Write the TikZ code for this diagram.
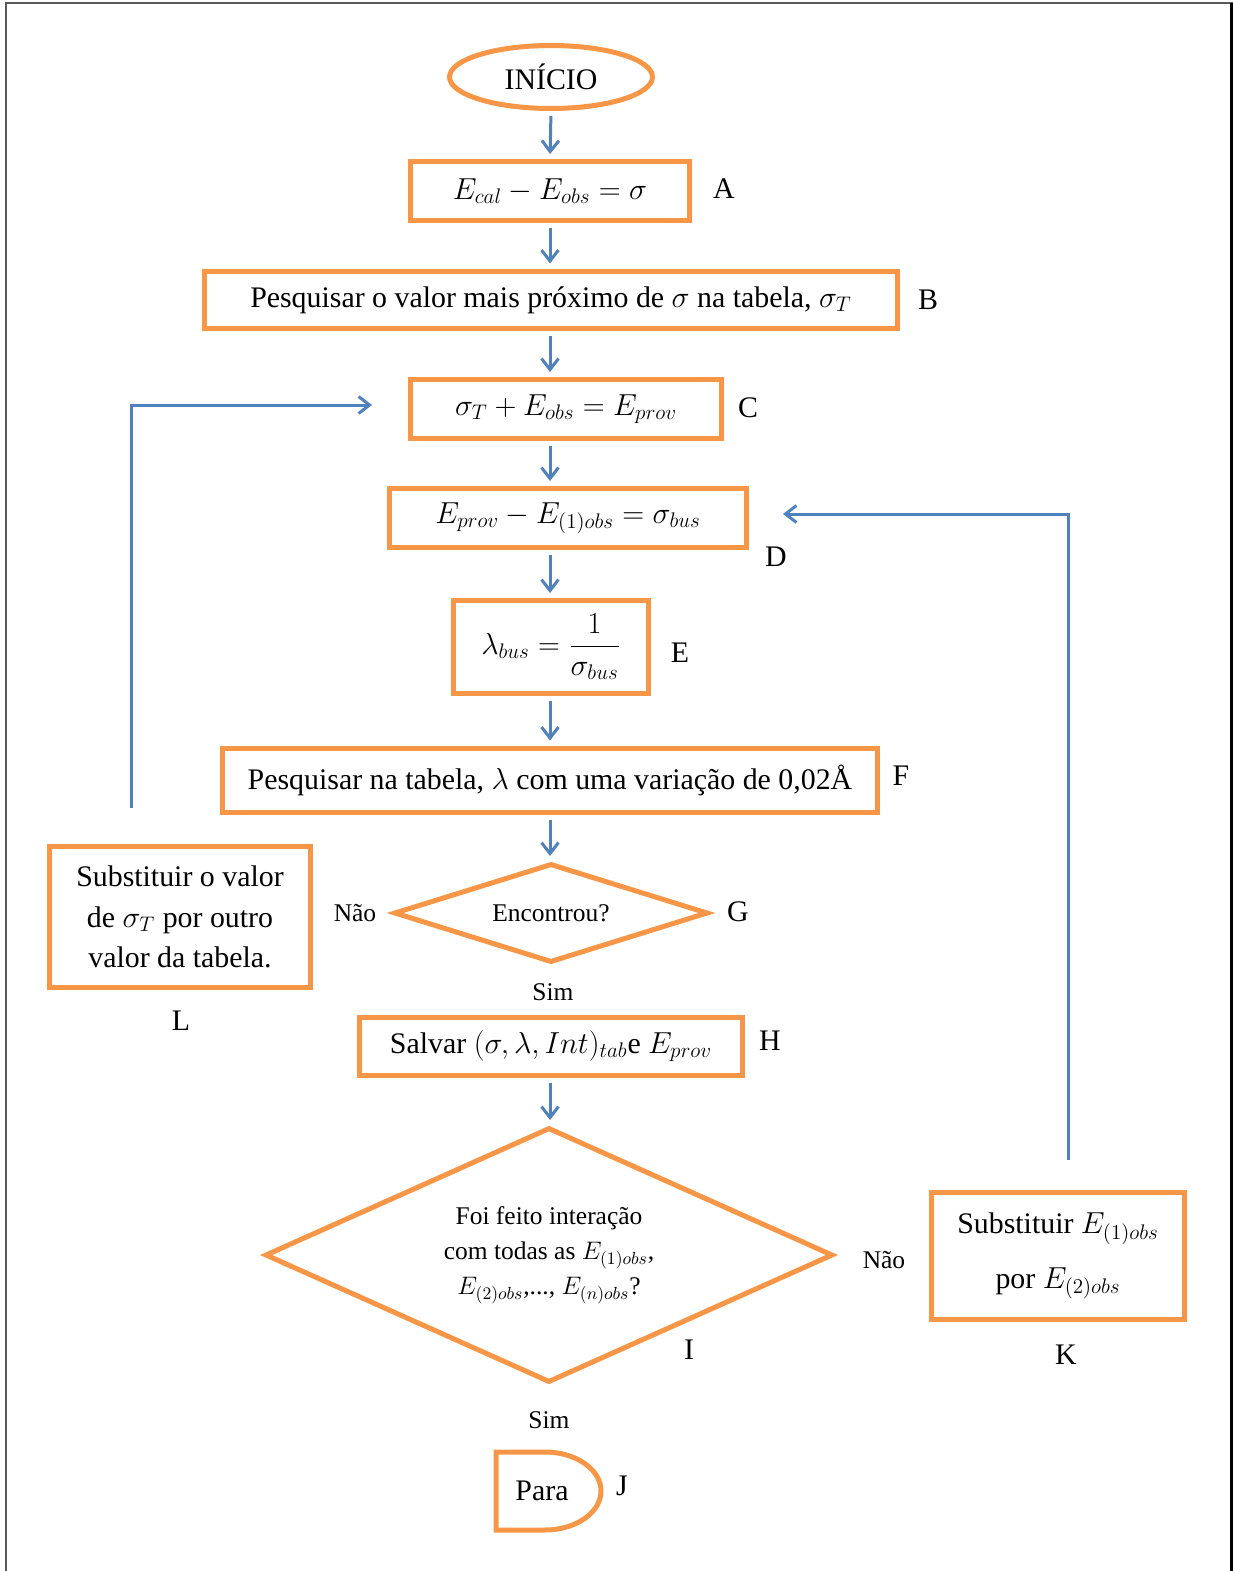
\documentclass[tikz,border=0pt]{standalone}
\usepackage{amsmath}
\usepackage{fontspec}
\setmainfont{Liberation Serif}
\usetikzlibrary{shapes.geometric,arrows.meta}
\definecolor{boxorange}{RGB}{247,150,70}
\definecolor{flowblue}{RGB}{79,129,189}

\begin{document}
\begin{tikzpicture}[x=0.02cm,y=-0.02cm,
	box/.style={shape=rectangle,draw=boxorange,line width=0.1cm,inner sep=0pt,align=center,font=\fontsize{17}{23}\selectfont},
	ques/.style={shape=diamond,draw=boxorange,line width=0.1cm,inner sep=0pt,align=center,font=\fontsize{14.5}{20}\selectfont},
	tag/.style={font=\fontsize{17}{20}\selectfont},
	note/.style={font=\fontsize{14.5}{17}\selectfont},
	flow/.style={draw=flowblue,line width=0.06cm,-{Straight Barb[length=0.22cm,width=0.34cm]}},
	link/.style={flow,shorten <=0.1cm,shorten >=0.1cm}]
	\useasboundingbox (0,0) rectangle (1233,1571);
	\draw[gray!70!black,line width=0.05cm] (6,1571) -- (6,3) -- (1233,3);
	\draw[black,line width=0.05cm] (1231.5,3) -- (1231.5,1571);

	\node[shape=ellipse,draw=boxorange,line width=0.1cm,inner sep=0pt,minimum width=4.06cm,minimum height=1.26cm,font=\fontsize{17}{20}\selectfont] (ini) at (551, 77) {INÍCIO};
	\node[box,minimum width=5.58cm,minimum height=1.18cm] (a) at (550, 191) {$E_{cal}-E_{obs}=\sigma$};
	\node[box,minimum width=13.86cm,minimum height=1.16cm] (b) at (551, 300) {Pesquisar o valor mais próximo de $\sigma$ na tabela, $\sigma_T$};
	\node[box,minimum width=6.22cm,minimum height=1.18cm] (c) at (566, 409) {$\sigma_T+E_{obs}=E_{prov}$};
	\node[box,minimum width=7.16cm,minimum height=1.18cm] (d) at (568, 518) {$E_{prov}-E_{(1)obs}=\sigma_{bus}$};
	\node[box,minimum width=3.92cm,minimum height=1.86cm] (e) at (551, 647) {$\lambda_{bus}=\dfrac{1}{\sigma_{bus}}$};
	\node[box,minimum width=13.12cm,minimum height=1.28cm] (f) at (550, 780) {Pesquisar na tabela, $\lambda$ com uma variação de 0,02Å};
	\node[ques,aspect=3,minimum width=6.28cm,minimum height=1.98cm] (g) at (551, 913) {Encontrou?};
	\node[box,minimum width=7.68cm,minimum height=1.16cm] (h) at (551, 1046) {Salvar $(\sigma,\lambda,Int)_{tab}$e $E_{prov}$};
	\node[ques,aspect=2.2,minimum width=11.36cm,minimum height=5.1cm] (i) at (549, 1255) {Foi feito interação\\com todas as $E_{(1)obs}$,\\$E_{(2)obs}$,..., $E_{(n)obs}$?};
	\node[font=\fontsize{17}{20}\selectfont] (j) at (542, 1491) {Para};
	\node[box,minimum width=5.06cm,minimum height=2.54cm,font=\fontsize{17}{31}\selectfont] (k) at (1058, 1256) {Substituir $E_{(1)obs}$\\por $E_{(2)obs}$};
	\node[box,minimum width=5.24cm,minimum height=2.84cm] (l) at (180, 917) {Substituir o valor\\de $\sigma_T$ por outro\\valor da tabela.};

	\draw[draw=boxorange,line width=0.1cm] (496, 1452) -- (545, 1452) arc[start angle=90,end angle=-90,x radius=1.12cm,y radius=0.78cm] -- (496, 1530) -- cycle;

	\node[tag] (ta) at (724, 189) {A};
	\node[tag] (tb) at (928, 300) {B};
	\node[tag] (tc) at (748, 408) {C};
	\node[tag] (td) at (776, 557) {D};
	\node[tag] (te) at (680, 653) {E};
	\node[tag] (tf) at (901, 776) {F};
	\node[tag] (tg) at (738, 912) {G};
	\node[tag] (th) at (770, 1041) {H};
	\node[tag] (ti) at (689, 1350) {I};
	\node[tag] (tj) at (622, 1486) {J};
	\node[tag] (tk) at (1066, 1355) {K};
	\node[tag] (tl) at (181, 1021) {L};

	\node[note] (nao1) at (355, 913) {Não};
	\node[note] (sim1) at (553, 992) {Sim};
	\node[note] (nao2) at (884, 1260) {Não};
	\node[note] (sim2) at (549, 1420) {Sim};

	\coordinate (lup) at (131, 808);
	\coordinate (cback) at (372, 405);
	\coordinate (kup) at (1068, 1160);
	\coordinate (dback) at (783, 514);

	\draw[link] (ini |- ini.south) -- (a |- a.north);
	\draw[link] (a) -- (a |- b.north);
	\draw[link] (a |- b.south) -- (a |- c.north);
	\draw[link] (a |- c.south) -- (a |- d.north);
	\draw[link] (a |- d.south) -- (a |- e.north);
	\draw[link] (a |- e.south) -- (a |- f.north);
	\draw[link] (a |- f.south) -- (a |- g.north);
	\draw[link] (a |- h.south) -- (a |- i.north);
	\draw[flow] (lup) |- (cback);
	\draw[flow] (kup) |- (dback);
		
	\end{tikzpicture}
\end{document}
